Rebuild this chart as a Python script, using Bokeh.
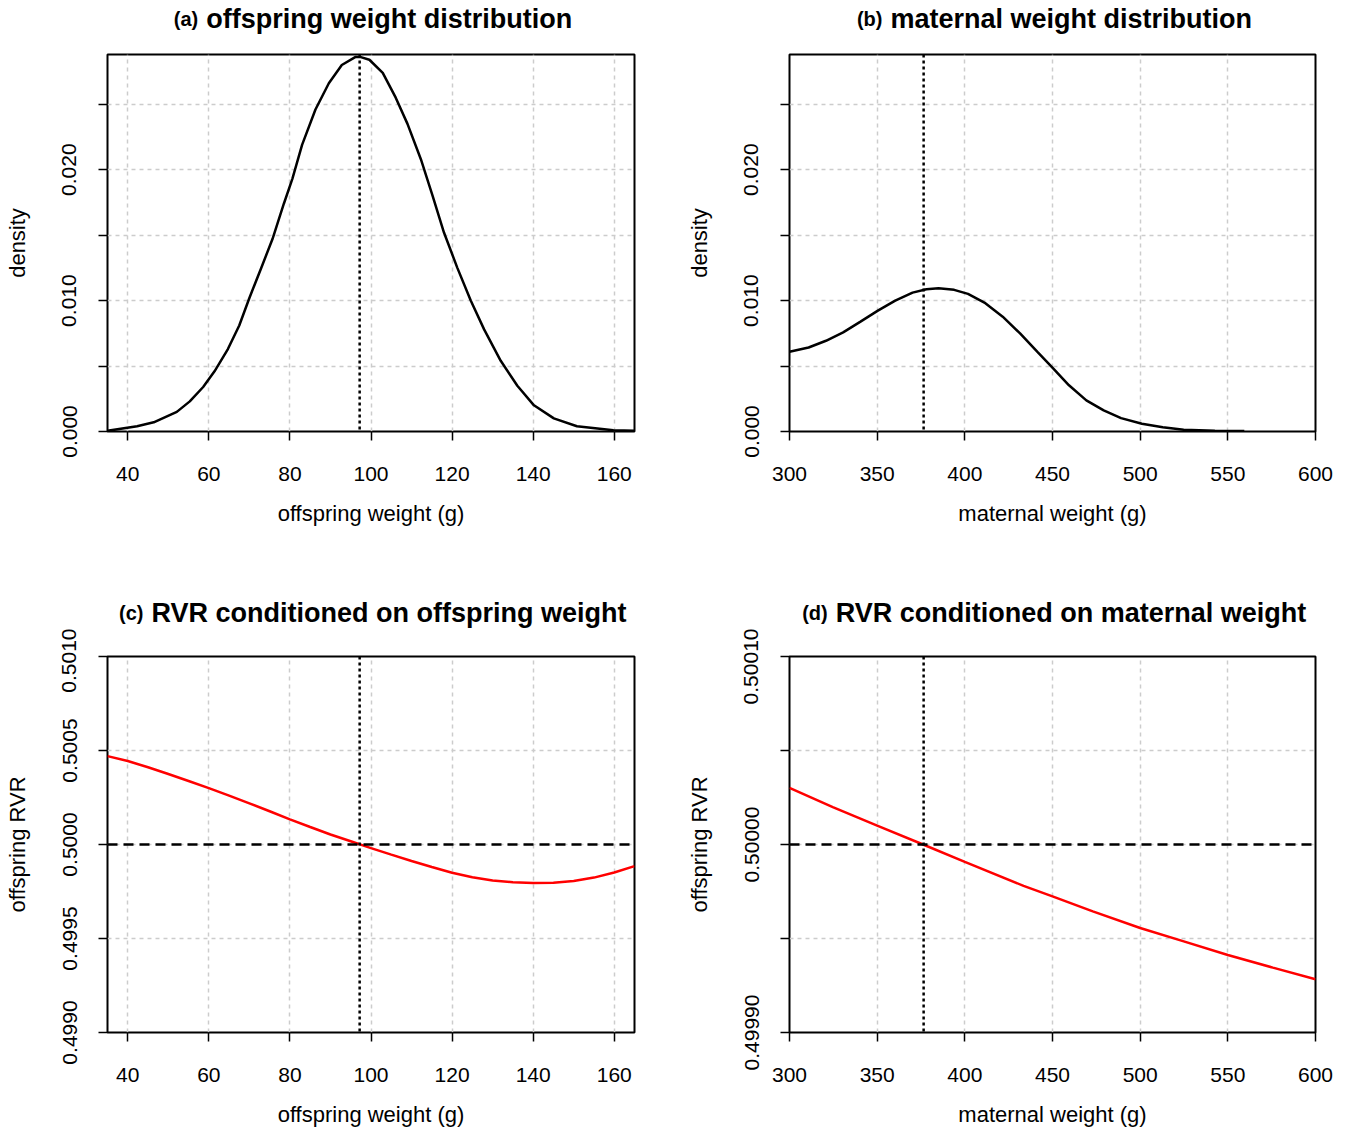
from bokeh.plotting import figure
from bokeh.models import FixedTicker, Span, Range1d, PrintfTickFormatter
from bokeh.core.properties import value
from bokeh.layouts import column, row
from bokeh.embed import file_html
from bokeh.resources import INLINE

# ---------------- data ----------------
# (a) offspring weight distribution
off_weight_a = [35, 42.3, 46.4, 52.1, 55.3, 58.6, 61.4, 64.7, 67.5, 70.0, 72.8, 75.7,
                78.5, 80.6, 83.0, 86.3, 89.6, 92.8, 96.1, 97.5, 99.6, 102.9, 106.1,
                109.0, 112.3, 115.2, 118.0, 121.3, 124.6, 127.9, 132.0, 136.1, 140.2,
                145.1, 150.8, 159.8, 165]
off_density_a = [0.00005, 0.0004, 0.0007, 0.0015, 0.0023, 0.0034, 0.0046, 0.0063, 0.0081,
                 0.0102, 0.0124, 0.0147, 0.0174, 0.0193, 0.0219, 0.0246, 0.0266, 0.0280,
                 0.0286, 0.0286, 0.0284, 0.0274, 0.0255, 0.0235, 0.0208, 0.0180, 0.0152,
                 0.0125, 0.0100, 0.0078, 0.0054, 0.0035, 0.0020, 0.0010, 0.0004, 0.0001,
                 0.00005]

# (b) maternal weight distribution
mat_weight_b = [300, 310.9, 320.8, 330.6, 340.5, 350.4, 360.3, 370.2, 378.1, 385.0, 393.9,
                401.8, 411.7, 421.6, 431.5, 441.4, 450.5, 459.4, 469.3, 479.2, 489.1, 501.0,
                512.9, 524.8, 542.6, 559.4]
mat_density_b = [0.00609, 0.00642, 0.00693, 0.00757, 0.00839, 0.00923, 0.01000, 0.01061,
                 0.01087, 0.01095, 0.01082, 0.01051, 0.00980, 0.00877, 0.00749, 0.00609,
                 0.00481, 0.00353, 0.00238, 0.00161, 0.00102, 0.00059, 0.00033, 0.00013,
                 0.00005, 0.00003]

# (c) RVR conditioned on offspring weight
off_weight_c = [35, 40, 45, 50, 55, 60, 65, 70, 75, 80, 85, 90, 95, 100, 105, 110, 115, 120,
                125, 130, 135, 140, 145, 150, 155, 160, 165]
rvr_c = [0.500470, 0.500444, 0.500411, 0.500375, 0.500338, 0.500300, 0.500260, 0.500219,
         0.500177, 0.500134, 0.500093, 0.500053, 0.500017, 0.499981, 0.499946, 0.499912,
         0.499880, 0.499850, 0.499826, 0.499809, 0.499799, 0.499795, 0.499797, 0.499806,
         0.499824, 0.499851, 0.499885]

# (d) RVR conditioned on maternal weight
mat_weight_d = [300, 324.7, 350, 376.2, 400, 433.5, 450, 473, 500, 524.4, 550, 575.7, 600]
rvr_d = [0.5000301, 0.5000199, 0.5000100, 0.5000000, 0.4999908, 0.4999780, 0.4999724,
         0.4999644, 0.4999556, 0.4999486, 0.4999412, 0.4999345, 0.4999283]

offspring_mean = 97.2
maternal_mean = 376.5
rvr_null = 0.5

off_ticks = [40, 60, 80, 100, 120, 140, 160]
mat_ticks = [300, 350, 400, 450, 500, 550, 600]
dens_major = [0.0, 0.010, 0.020]
dens_minor = [0.005, 0.015, 0.025]
rvr_c_ticks = [0.4990, 0.4995, 0.5000, 0.5005, 0.5010]
rvr_d_major = [0.49990, 0.50000, 0.50010]
rvr_d_minor = [0.49995, 0.50005]

titles = [("(a)", "offspring weight distribution"),
          ("(b)", "maternal weight distribution"),
          ("(c)", "RVR conditioned on offspring weight"),
          ("(d)", "RVR conditioned on maternal weight")]

# ---------------- styling helpers ----------------
FONT = "Liberation Sans"
GRID = "#cccccc"
RED = "#ff0000"

# Arial/Liberation Sans Bold advance widths (per 1000 em) for title layout
AB = {' ': 278, '(': 333, ')': 333, 'a': 556, 'b': 611, 'c': 556, 'd': 611, 'e': 556,
      'f': 333, 'g': 611, 'h': 611, 'i': 278, 'l': 278, 'm': 889, 'n': 611, 'o': 611,
      'p': 611, 'r': 389, 's': 556, 't': 333, 'u': 611, 'w': 778, 'R': 722, 'V': 667,
      'y': 556}


def text_w(s, size):
    return sum(AB.get(ch, 556) for ch in s) / 1000.0 * size


def make_fig(width, height, left, right, top, bottom, xr, yr):
    p = figure(width=width, height=height, x_range=Range1d(*xr), y_range=Range1d(*yr),
               output_backend="svg", toolbar_location=None,
               min_border_left=left, min_border_right=right,
               min_border_top=top, min_border_bottom=bottom)
    p.outline_line_color = "black"
    p.outline_line_width = 2
    p.outline_line_alpha = 1
    p.background_fill_color = "white"
    p.border_fill_color = "white"
    for ax in (p.xaxis[0], p.yaxis[0]):
        ax.axis_line_color = None
        ax.major_tick_out = 9
        ax.major_tick_in = 0
        ax.major_tick_line_width = 1.5
        ax.major_tick_line_color = "black"
        ax.minor_tick_out = 9
        ax.minor_tick_in = 0
        ax.minor_tick_line_width = 1.5
        ax.minor_tick_line_color = "black"
        ax.major_label_text_font = FONT
        ax.major_label_text_font_size = "21px"
        ax.major_label_text_color = "black"
        ax.axis_label_text_font = FONT
        ax.axis_label_text_font_size = "22px"
        ax.axis_label_text_font_style = "normal"
        ax.axis_label_text_color = "black"
    p.xaxis[0].major_label_standoff = 26
    p.xaxis[0].axis_label_standoff = 17
    p.yaxis[0].major_label_orientation = "parallel"
    p.yaxis[0].major_label_standoff = 22
    p.yaxis[0].axis_label_standoff = 30
    for g in (p.xgrid[0], p.ygrid[0]):
        g.grid_line_color = GRID
        g.grid_line_dash = "4 4"
        g.grid_line_width = 1.5
    return p


BASELINE_FIX = 8  # rendered baseline sits this many px below the requested one


def title_strip(width, height, frame_left, frame_w, tag, main, baseline_from_bottom):
    t = figure(width=width, height=height, x_range=Range1d(0, width),
               y_range=Range1d(0, height), x_axis_type=None, y_axis_type=None,
               output_backend="svg", toolbar_location=None, min_border=0)
    t.outline_line_color = None
    t.background_fill_color = "white"
    t.border_fill_color = "white"
    tag_size, main_size, gap = 20, 27, 8
    tw = text_w(tag, tag_size)
    mw = text_w(main, main_size)
    total = tw + gap + mw
    start = frame_left + frame_w / 2.0 - total / 2.0 + 2
    yb = baseline_from_bottom + BASELINE_FIX
    t.text(x=[start + tw], y=[yb], text=[tag], text_align="right",
           text_baseline="alphabetic", text_font=value(FONT),
           text_font_size=value(f"{tag_size}px"), text_font_style=value("bold"),
           text_color="black")
    t.text(x=[start + tw + gap], y=[yb], text=[main], text_align="left",
           text_baseline="alphabetic", text_font=value(FONT),
           text_font_size=value(f"{main_size}px"), text_font_style=value("bold"),
           text_color="black")
    return t


def vline(p, x):
    p.add_layout(Span(location=x, dimension="height", line_color="black",
                      line_width=2.5, line_dash="3 3"))


def hline(p, y):
    p.add_layout(Span(location=y, dimension="width", line_color="black",
                      line_width=2.5, line_dash="10 6"))


# layout geometry (pixels)
W_L, W_R = 678, 669
FW_L, FW_R = 527, 526
BL_L, BL_R = 107, 111
TOP_H, TOP_FIG_H = 52, 522      # title strip / figure of the upper row
MID_H, BOT_FIG_H = 54, 501      # title strip / figure of the lower row

# ---------------- panel (a) ----------------
xr_a, yr_a = (35, 165), (0, 0.0288)
pa = make_fig(W_L, TOP_FIG_H, BL_L, W_L - BL_L - FW_L, 2, TOP_FIG_H - 2 - 377, xr_a, yr_a)
pa.xaxis[0].ticker = FixedTicker(ticks=off_ticks)
pa.yaxis[0].ticker = FixedTicker(ticks=dens_major, minor_ticks=dens_minor)
pa.yaxis[0].formatter = PrintfTickFormatter(format="%.3f")
pa.xgrid[0].ticker = FixedTicker(ticks=off_ticks)
pa.ygrid[0].ticker = FixedTicker(ticks=dens_major + dens_minor)
pa.xaxis[0].axis_label = "offspring weight (g)"
pa.yaxis[0].axis_label = "density"
pa.line(off_weight_a, off_density_a, line_color="black", line_width=2.5)
vline(pa, offspring_mean)
ta = title_strip(W_L, TOP_H, BL_L, FW_L, titles[0][0], titles[0][1], 25.7)

# ---------------- panel (b) ----------------
xr_b, yr_b = (300, 600), (0, 0.0288)
pb = make_fig(W_R, TOP_FIG_H, BL_R, W_R - BL_R - FW_R, 2, TOP_FIG_H - 2 - 377, xr_b, yr_b)
pb.xaxis[0].ticker = FixedTicker(ticks=mat_ticks)
pb.yaxis[0].ticker = FixedTicker(ticks=dens_major, minor_ticks=dens_minor)
pb.yaxis[0].formatter = PrintfTickFormatter(format="%.3f")
pb.xgrid[0].ticker = FixedTicker(ticks=mat_ticks)
pb.ygrid[0].ticker = FixedTicker(ticks=dens_major + dens_minor)
pb.xaxis[0].axis_label = "maternal weight (g)"
pb.yaxis[0].axis_label = "density"
pb.line(mat_weight_b, mat_density_b, line_color="black", line_width=2.5)
vline(pb, maternal_mean)
tb = title_strip(W_R, TOP_H, BL_R, FW_R, titles[1][0], titles[1][1], 25.7)

# ---------------- panel (c) ----------------
xr_c, yr_c = (35, 165), (0.4990, 0.5010)
pc = make_fig(W_L, BOT_FIG_H, BL_L, W_L - BL_L - FW_L, 28, BOT_FIG_H - 28 - 376, xr_c, yr_c)
pc.xaxis[0].ticker = FixedTicker(ticks=off_ticks)
pc.yaxis[0].ticker = FixedTicker(ticks=rvr_c_ticks)
pc.yaxis[0].formatter = PrintfTickFormatter(format="%.4f")
pc.xgrid[0].ticker = FixedTicker(ticks=off_ticks)
pc.ygrid[0].ticker = FixedTicker(ticks=rvr_c_ticks)
pc.xaxis[0].axis_label = "offspring weight (g)"
pc.yaxis[0].axis_label = "offspring RVR"
pc.line(off_weight_c, rvr_c, line_color=RED, line_width=2.5)
hline(pc, rvr_null)
vline(pc, offspring_mean)
tc = title_strip(W_L, MID_H, BL_L, FW_L, titles[2][0], titles[2][1], 7.6)

# ---------------- panel (d) ----------------
xr_d, yr_d = (300, 600), (0.49990, 0.50010)
pd_ = make_fig(W_R, BOT_FIG_H, BL_R, W_R - BL_R - FW_R, 28, BOT_FIG_H - 28 - 376, xr_d, yr_d)
pd_.xaxis[0].ticker = FixedTicker(ticks=mat_ticks)
pd_.yaxis[0].ticker = FixedTicker(ticks=rvr_d_major, minor_ticks=rvr_d_minor)
pd_.yaxis[0].formatter = PrintfTickFormatter(format="%.5f")
pd_.xgrid[0].ticker = FixedTicker(ticks=mat_ticks)
pd_.ygrid[0].ticker = FixedTicker(ticks=rvr_d_major + rvr_d_minor)
pd_.xaxis[0].axis_label = "maternal weight (g)"
pd_.yaxis[0].axis_label = "offspring RVR"
pd_.line(mat_weight_d, rvr_d, line_color=RED, line_width=2.5)
hline(pd_, rvr_null)
vline(pd_, maternal_mean)
td = title_strip(W_R, MID_H, BL_R, FW_R, titles[3][0], titles[3][1], 7.6)

layout = column(row(ta, tb), row(pa, pb), row(tc, td), row(pc, pd_))
open("out.html", "w").write(file_html(layout, INLINE))
